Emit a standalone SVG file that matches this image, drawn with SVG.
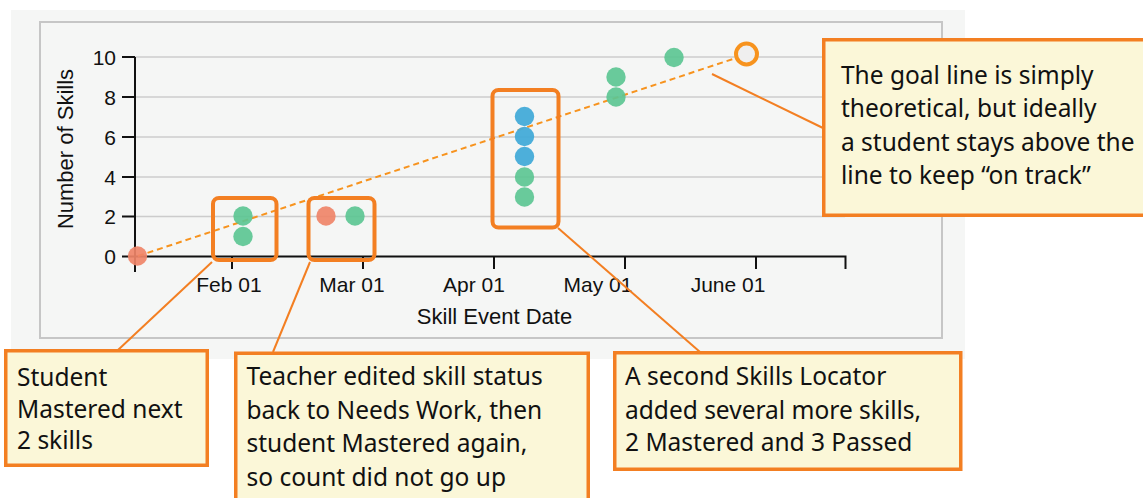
<svg xmlns="http://www.w3.org/2000/svg" width="1143" height="498" viewBox="0 0 1143 498">
<style>
.tick{font-family:"Liberation Sans",Arial,sans-serif;font-size:21px;fill:#111}
.title{font-family:"Liberation Sans",Arial,sans-serif;font-size:22px;fill:#111}
.grid{stroke:#cccccc;stroke-width:1.5}
.axis{stroke:#111;stroke-width:2;fill:none}
.pt-r{fill:#ef8468;opacity:0.92}
.pt-g{fill:#5cc693;opacity:0.92}
.pt-b{fill:#43abd8;opacity:0.95}
.hl{fill:none;stroke:#f37f22;stroke-width:4}
.callout{fill:#fbf7d8;stroke:#f37f22;stroke-width:3.5}
.ctext{font-family:"Noto Sans","DejaVu Sans",sans-serif;font-size:24.5px;fill:#111}
.leader{stroke:#f37f22;stroke-width:2;fill:none}
</style>
<rect x="0" y="0" width="1143" height="498" fill="#ffffff"/>
<g id="chart">
  <rect x="11" y="10" width="954" height="349" fill="#f5f6f5"/>
  <rect x="40" y="22" width="902" height="316" fill="#f5f6f5" stroke="#c6c6c6" stroke-width="2"/>
  <g id="gridlines">
    <line class="grid" x1="135" y1="57" x2="845" y2="57"/>
    <line class="grid" x1="135" y1="97" x2="845" y2="97"/>
    <line class="grid" x1="135" y1="137" x2="845" y2="137"/>
    <line class="grid" x1="135" y1="177" x2="845" y2="177"/>
    <line class="grid" x1="135" y1="216.5" x2="845" y2="216.5"/>
  </g>
  <g id="y-axis">
    <line class="axis" x1="135" y1="57" x2="135" y2="272"/>
    <line class="axis" x1="122" y1="57" x2="135" y2="57"/>
    <line class="axis" x1="122" y1="97" x2="135" y2="97"/>
    <line class="axis" x1="122" y1="137" x2="135" y2="137"/>
    <line class="axis" x1="122" y1="177" x2="135" y2="177"/>
    <line class="axis" x1="122" y1="216.5" x2="135" y2="216.5"/>
    <line class="axis" x1="122" y1="256.5" x2="135" y2="256.5"/>
    <g class="tick" text-anchor="end">
      <text x="116" y="64.5">10</text>
      <text x="116" y="104.5">8</text>
      <text x="116" y="144.5">6</text>
      <text x="116" y="184.5">4</text>
      <text x="116" y="224">2</text>
      <text x="116" y="264">0</text>
    </g>
    <text class="title" text-anchor="middle" transform="translate(73 149) rotate(-90)">Number of Skills</text>
  </g>
  <g id="x-axis">
    <path class="axis" d="M135 256.5 H845.5 V269"/>
    <line class="axis" x1="232" y1="256.5" x2="232" y2="269"/>
    <line class="axis" x1="363" y1="256.5" x2="363" y2="269"/>
    <line class="axis" x1="494" y1="256.5" x2="494" y2="269"/>
    <line class="axis" x1="625" y1="256.5" x2="625" y2="269"/>
    <line class="axis" x1="756" y1="256.5" x2="756" y2="269"/>
    <g class="tick" text-anchor="middle">
      <text x="229" y="292">Feb 01</text>
      <text x="352" y="292">Mar 01</text>
      <text x="474" y="292">Apr 01</text>
      <text x="598" y="292">May 01</text>
      <text x="728" y="292">June 01</text>
    </g>
    <text class="title" x="494.5" y="324" text-anchor="middle">Skill Event Date</text>
  </g>
  <line id="goal-line" x1="138" y1="256" x2="736" y2="58" stroke="#f7931e" stroke-width="2" stroke-dasharray="6 4"/>
  <g id="points">
    <circle class="pt-r" cx="137.5" cy="256" r="9.7"/>
    <circle class="pt-g" cx="243" cy="216" r="9.7"/>
    <circle class="pt-g" cx="243" cy="236.5" r="9.7"/>
    <circle class="pt-r" cx="326" cy="216" r="9.7"/>
    <circle class="pt-g" cx="355" cy="216" r="9.7"/>
    <circle class="pt-g" cx="524.5" cy="197" r="9.7"/>
    <circle class="pt-g" cx="524.5" cy="177" r="9.7"/>
    <circle class="pt-b" cx="524.5" cy="156.5" r="9.7"/>
    <circle class="pt-b" cx="524.5" cy="136.5" r="9.7"/>
    <circle class="pt-b" cx="524.5" cy="116.5" r="9.7"/>
    <circle class="pt-g" cx="616" cy="97" r="9.7"/>
    <circle class="pt-g" cx="616" cy="77" r="9.7"/>
    <circle class="pt-g" cx="674" cy="57.5" r="9.7"/>
  </g>
  <circle id="goal-point" cx="746.5" cy="54" r="10.5" fill="#efefef" stroke="#f7931e" stroke-width="4"/>
</g>
<g id="highlight-feb">
  <rect class="hl" x="213" y="198" width="63.5" height="62" rx="6"/>
</g>
<g id="highlight-mar">
  <rect class="hl" x="308.5" y="198" width="66" height="62" rx="6"/>
</g>
<g id="highlight-apr">
  <rect class="hl" x="492.5" y="90" width="66" height="137.5" rx="6"/>
</g>
<g id="connectors">
  <line class="leader" x1="212" y1="262" x2="118" y2="350"/>
  <line class="leader" x1="310" y1="262" x2="273" y2="352"/>
  <line class="leader" x1="558" y1="228" x2="700" y2="352"/>
  <line class="leader" x1="712" y1="74" x2="823" y2="128" stroke-width="1.5"/>
</g>
<g id="callout-goal">
  <rect class="callout" x="823.75" y="39.75" width="330" height="175.5"/>
  <text class="ctext" x="841" y="84">The goal line is simply</text>
  <text class="ctext" x="841" y="117">theoretical, but ideally</text>
  <text class="ctext" x="841" y="151">a student stays above the</text>
  <text class="ctext" x="841" y="184">line to keep “on track”</text>
</g>
<g id="callout-student">
  <rect class="callout" x="5.75" y="350.75" width="201.5" height="114.5"/>
  <text class="ctext" x="17" y="386">Student</text>
  <text class="ctext" x="17" y="417.5">Mastered next</text>
  <text class="ctext" x="17" y="449">2 skills</text>
</g>
<g id="callout-teacher">
  <rect class="callout" x="235.75" y="353.25" width="352.5" height="160"/>
  <text class="ctext" x="246.5" y="385">Teacher edited skill status</text>
  <text class="ctext" x="246.5" y="419">back to Needs Work, then</text>
  <text class="ctext" x="246.5" y="452">student Mastered again,</text>
  <text class="ctext" x="246.5" y="486">so count did not go up</text>
</g>
<g id="callout-locator">
  <rect class="callout" x="614.75" y="352.75" width="346" height="116.5"/>
  <text class="ctext" x="625" y="385">A second Skills Locator</text>
  <text class="ctext" x="625" y="419">added several more skills,</text>
  <text class="ctext" x="625" y="451">2 Mastered and 3 Passed</text>
</g>
</svg>
